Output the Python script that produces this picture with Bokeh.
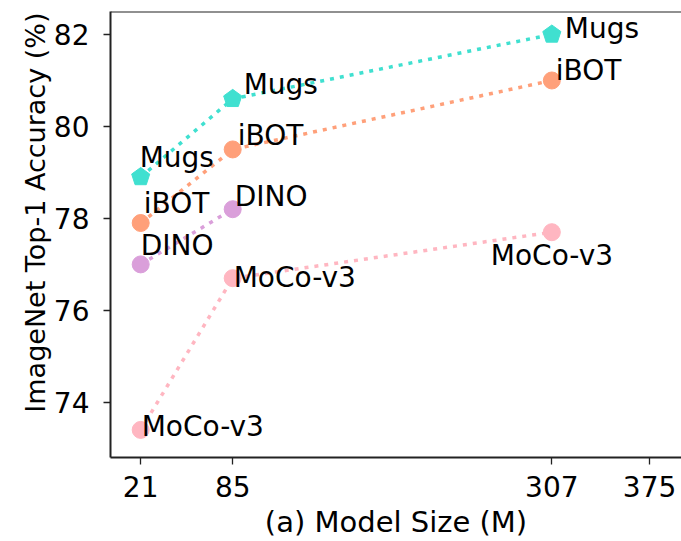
from bokeh.plotting import figure
from bokeh.models import ColumnDataSource, Span, FixedTicker, Range1d, Title
from bokeh.core.properties import value
from bokeh.embed import file_html
from bokeh.resources import INLINE

# ---- data ----
sizes = [21, 85, 307]
mugs_acc = [78.9, 80.6, 82.0]
ibot_acc = [77.9, 79.5, 81.0]
dino_sizes = [21, 85]
dino_acc = [77.0, 78.2]
moco_acc = [73.4, 76.7, 77.7]
x_ticks = [21, 85, 307, 375]
y_ticks = [74, 76, 78, 80, 82]

# label pixel offsets (styling)
mugs_dx, mugs_dy = [-1, 11, 13], [-20, -14, -6]
ibot_dx, ibot_dy = [3, 5, 4], [-20, -14, -10]
dino_dx, dino_dy = [0, 2], [-19, -13]
moco_dx, moco_dy = [1, 1, -61], [-3, -1, 23]

FONT_NAME = "DejaVu Sans"
FONT = value(FONT_NAME)

X0, X1 = 0, 397.2
Y0, Y1 = 72.8, 82.5
p = figure(width=681, height=541, x_range=Range1d(X0, X1), y_range=Range1d(Y0, Y1),
           output_backend="svg", toolbar_location=None,
           min_border_left=110, min_border_top=11, min_border_right=0, min_border_bottom=84)
p.outline_line_color = None
p.xgrid.visible = False
p.ygrid.visible = False
p.background_fill_color = "white"

series = [
    ("Mugs", sizes, mugs_acc, "#40E0D0", mugs_dx, mugs_dy, "pentagon"),
    ("iBOT", sizes, ibot_acc, "#FFA07A", ibot_dx, ibot_dy, "circle"),
    ("DINO", dino_sizes, dino_acc, "#DA9FDA", dino_dx, dino_dy, "circle"),
    ("MoCo-v3", sizes, moco_acc, "#FFB6C1", moco_dx, moco_dy, "circle"),
]

for name, xs, ys, col, dx, dy, mk in series:
    src = ColumnDataSource(dict(x=xs, y=ys, text=[name] * len(xs), dx=dx, dy=dy))
    p.line("x", "y", source=src, line_color=col, line_width=3.5, line_dash="4 6")
for name, xs, ys, col, dx, dy, mk in series:
    src = ColumnDataSource(dict(x=xs, y=ys, text=[name] * len(xs), dx=dx, dy=dy))
    if mk == "pentagon":
        p.ngon("x", "y", radius=9.5, radius_units="screen", n=5, angle=0.0,
               source=src, fill_color=col, line_color=col)
    else:
        p.scatter("x", "y", source=src, marker="circle", size=17,
                  fill_color=col, line_color=col)
    p.text("x", "y", text="text", source=src, x_offset="dx", y_offset="dy",
           text_font=FONT, text_font_size="28px", text_baseline="alphabetic",
           text_align="left", text_color="black")

p.add_layout(Span(location=Y1, dimension="width", line_color="#222222", line_width=2))

p.xaxis.ticker = FixedTicker(ticks=x_ticks)
p.yaxis.ticker = FixedTicker(ticks=y_ticks)
for ax in (p.xaxis, p.yaxis):
    ax.major_tick_in = 0
    ax.major_tick_out = 7
    ax.minor_tick_line_color = None
    ax.axis_line_width = 2
    ax.axis_line_color = "#222222"
    ax.major_tick_line_color = "#222222"
    ax.major_tick_line_width = 1.3
    ax.major_label_text_font = FONT_NAME
    ax.major_label_text_font_size = "28px"
    ax.major_label_text_color = "black"
    ax.axis_label_text_font = FONT_NAME
    ax.axis_label_text_font_style = "normal"
    ax.axis_label_text_color = "black"

p.xaxis.axis_label = "(a) Model Size (M)"
p.xaxis.axis_label_text_font_size = "29px"
p.xaxis.major_label_standoff = 11
p.xaxis.axis_label_standoff = 5
p.yaxis.major_label_standoff = 14

# y-axis title, placed towards the top like the reference
ytitle = Title(text="ImageNet Top-1 Accuracy (%)", align="right", offset=1,
               vertical_align="bottom", standoff=0,
               text_font=FONT_NAME, text_font_size="27px",
               text_font_style="normal", text_color="black")
p.add_layout(ytitle, "left")

open("out.html", "w").write(file_html(p, INLINE))
